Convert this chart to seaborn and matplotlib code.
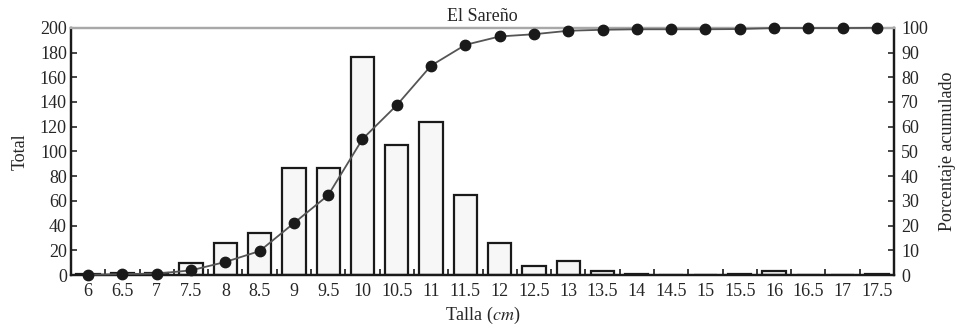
import numpy as np
import pandas as pd
import matplotlib
matplotlib.use("Agg")
import matplotlib.pyplot as plt
import seaborn as sns

# Size classes (cm)
tallas = ["6", "6.5", "7", "7.5", "8", "8.5", "9", "9.5", "10", "10.5", "11", "11.5",
          "12", "12.5", "13", "13.5", "14", "14.5", "15", "15.5", "16", "16.5", "17", "17.5"]
# Number of individuals per size class
total = [1, 2, 2, 10, 26, 34, 87, 87, 176, 105, 124, 65,
         26, 7, 11, 3, 1, 0, 0, 1, 3, 0, 0, 1]
# Cumulative percentage
porcentaje_acumulado = [0.1, 0.4, 0.6, 1.9, 5.3, 9.7, 21.0, 32.3, 55.0, 68.7, 84.7, 93.1,
                        96.5, 97.4, 98.8, 99.2, 99.4, 99.4, 99.4, 99.5, 99.9, 99.9, 99.9, 100.0]

df = pd.DataFrame({"talla": tallas, "total": total, "acum": porcentaje_acumulado})

sns.set_theme(style="white")
plt.rcParams["font.family"] = ["Liberation Serif", "DejaVu Serif"]
plt.rcParams["mathtext.fontset"] = "stix"

fig = plt.figure(figsize=(9.57, 3.31), dpi=100)
ax = fig.add_axes([0.0742, 0.169, 0.860, 0.747])

sns.barplot(data=df, x="talla", y="total", ax=ax, color="#f7f7f7",
            edgecolor="#1a1a1a", linewidth=1.6, width=0.68, saturation=1)
ax.set_ylim(0, 200)
ax.set_yticks(np.arange(0, 201, 20))
ax.set_xlim(-0.5, len(tallas) - 0.5)

ax2 = ax.twinx()
sns.pointplot(data=df, x="talla", y="acum", ax=ax2, color="#555555",
              markers="o", markersize=7.5, linewidth=1.3,
              markerfacecolor="#1a1a1a", markeredgecolor="#1a1a1a",
              clip_on=False, zorder=5)
ax2.set_ylim(0, 100)
ax2.set_yticks(np.arange(0, 101, 10))
ax2.set_xlim(-0.5, len(tallas) - 0.5)

fs = 13
ax.set_xticks(range(len(tallas)))
ax.set_xticklabels(tallas, fontsize=fs)
ax.set_xticks(np.arange(-0.5, len(tallas), 1.0), minor=True)
ax.tick_params(axis="x", which="major", length=0, pad=6)
ax.tick_params(axis="x", which="minor", direction="in", length=4, width=1.2,
               color="#1a1a1a", bottom=True)
ax.tick_params(axis="y", direction="in", length=4, width=1.2, labelsize=fs,
               left=True, pad=3)
ax2.tick_params(axis="y", direction="in", length=4, width=1.2, labelsize=fs,
                right=True, pad=5)
ax2.tick_params(axis="x", which="both", length=0)

for a in (ax, ax2):
    for side in ("left", "right", "bottom"):
        a.spines[side].set_color("#1a1a1a")
        a.spines[side].set_linewidth(1.6)
    a.spines["top"].set_color("#a8a8a8")
    a.spines["top"].set_linewidth(1.6)

ax.set_xlabel("Talla ($\\it{cm}$)", fontsize=fs, labelpad=3)
ax.set_ylabel("Total", fontsize=fs, labelpad=8)
ax2.set_ylabel("Porcentaje acumulado", fontsize=fs, labelpad=8)
ax.set_title("El Sareño", fontsize=fs, pad=5)

fig.savefig("out.png", dpi=100)
